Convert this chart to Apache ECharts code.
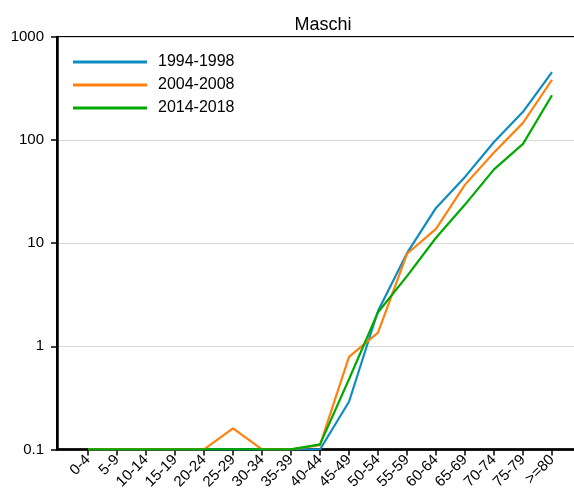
<!DOCTYPE html>
<html>
<head>
<meta charset="utf-8">
<script src="https://cdn.jsdelivr.net/npm/echarts@6/dist/echarts.min.js"></script>
<style>html,body{margin:0;padding:0;background:#fff;overflow:hidden;width:574px;height:492px}#c{width:584px;height:492px}</style>
</head>
<body>
<div id="c"></div>
<script>
const categories = ['0-4','5-9','10-14','15-19','20-24','25-29','30-34','35-39','40-44','45-49','50-54','55-59','60-64','65-69','70-74','75-79','>=80'];
const s1994 = [0.1,0.1,0.1,0.1,0.1,0.1,0.1,0.1,0.1,0.29,2.2,8.0,22,44,96,188,457];
const s2004 = [0.1,0.1,0.1,0.1,0.1,0.16,0.1,0.1,0.11,0.79,1.36,7.9,13.8,37,76,147,385];
const s2014 = [0.1,0.1,0.1,0.1,0.1,0.1,0.1,0.1,0.112,0.48,2.14,4.8,11.3,23.7,52,92,272];
const seriesNames = ['1994-1998','2004-2008','2014-2018'];
const colors = ['#0e8cc2','#ff800e','#00aa00'];
const font = 'Liberation Sans, Arial, sans-serif';

const chart = echarts.init(document.getElementById('c'));
const toPts = arr => arr.map((v,i)=>[i,v]);
const idx = categories.map((c,i)=>i);
chart.setOption({
  animation:false,
  backgroundColor:'#fff',
  title:{text:'Maschi',left:318,textAlign:'center',top:11,textStyle:{fontFamily:font,fontSize:18,fontWeight:'normal',color:'#000'}},
  legend:{orient:'vertical',left:73,top:54,icon:'rect',itemWidth:74,itemHeight:3,itemGap:7,padding:0,
    textStyle:{fontFamily:font,fontSize:16,lineHeight:14,color:'#000',padding:[0,0,0,6]},
    data:seriesNames},
  grid:{left:57,top:37,right:5,bottom:40,show:true,borderColor:'#000',borderWidth:2,containLabel:false},
  xAxis:{type:'value',min:-31/29,max:16+27/29,
    axisLine:{show:true,onZero:false,lineStyle:{color:'#000',width:2.5}},
    axisTick:{show:true,length:6,lineStyle:{color:'#000',width:1.5},customValues:idx},
    axisLabel:{customValues:idx,rotate:45,margin:8,fontFamily:font,fontSize:15,color:'#000',
      formatter:v=>categories[Math.round(v)]||''},
    splitLine:{show:false}},
  yAxis:{type:'log',logBase:10,min:0.1,max:1000,
    axisLine:{show:true,onZero:false,lineStyle:{color:'#000',width:2.5}},
    axisTick:{show:true,length:6,lineStyle:{color:'#000',width:1.5}},
    axisLabel:{margin:13,fontFamily:font,fontSize:15,color:'#000',formatter:v=>String(+v.toPrecision(3))},
    splitLine:{show:true,lineStyle:{color:'#d9d9d9',width:1}}},
  series:[
    {name:seriesNames[0],type:'line',data:toPts(s1994),symbol:'none',lineStyle:{width:2.2,color:colors[0]},itemStyle:{color:colors[0]},z:3},
    {name:seriesNames[1],type:'line',data:toPts(s2004),symbol:'none',lineStyle:{width:2.2,color:colors[1]},itemStyle:{color:colors[1]},z:4},
    {name:seriesNames[2],type:'line',data:toPts(s2014),symbol:'none',lineStyle:{width:2.2,color:colors[2]},itemStyle:{color:colors[2]},z:5}
  ]
});
</script>
</body>
</html>
